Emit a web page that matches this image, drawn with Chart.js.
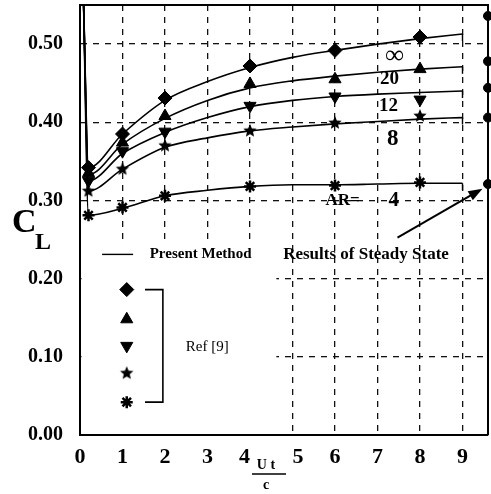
<!DOCTYPE html>
<html>
<head>
<meta charset="utf-8">
<script src="https://cdn.jsdelivr.net/npm/chart.js@4.4.1/dist/chart.umd.min.js"></script>
<style>
  html, body { margin: 0; padding: 0; background: #fff; }
  canvas { display: block; }
</style>
</head>
<body>
<canvas id="chart" width="491" height="494"></canvas>
<script>
const xTicks = [0, 1, 2, 3, 4, 5, 6, 7, 8, 9];
const yTicks = [0, 0.1, 0.2, 0.3, 0.4, 0.5];

// Present Method curves (AR = inf, 20, 12, 8, 4)
const tLine = [0.08, 0.2, 1, 2, 3, 4, 5, 6, 7, 8, 9];
const lineInf = [0.56, 0.342, 0.385, 0.428, 0.452, 0.470, 0.483, 0.492, 0.500, 0.507, 0.513];
const line20  = [0.56, 0.333, 0.372, 0.405, 0.428, 0.444, 0.453, 0.459, 0.464, 0.468, 0.471];
const line12  = [0.56, 0.325, 0.360, 0.387, 0.406, 0.420, 0.428, 0.433, 0.436, 0.438, 0.440];
const line8   = [0.56, 0.312, 0.340, 0.368, 0.380, 0.389, 0.394, 0.398, 0.401, 0.404, 0.406];
const line4   = [0.56, 0.281, 0.290, 0.306, 0.313, 0.318, 0.320, 0.320, 0.321, 0.322, 0.322];
const endDrop = 0.009;

// Ref [9] markers
const tRef = [0.2, 1, 2, 4, 6, 8];
const refInf = [0.342, 0.385, 0.431, 0.472, 0.492, 0.509];
const ref20  = [0.335, 0.374, 0.408, 0.449, 0.455, 0.468];
const ref12  = [0.325, 0.363, 0.388, 0.421, 0.433, 0.429];
const ref8   = [0.312, 0.340, 0.370, 0.389, 0.399, 0.408];
const ref4   = [0.281, 0.291, 0.306, 0.318, 0.319, 0.323];

// Results of steady state (on the right frame)
const tSteady = 9.6;
const steadyVals = [0.536, 0.478, 0.444, 0.406, 0.321];

const serif = "'Liberation Serif', 'Times New Roman', serif";

function makeStar(r) {
  const c = document.createElement("canvas");
  c.width = c.height = 2 * r + 2;
  const g = c.getContext("2d");
  g.fillStyle = "#000";
  g.beginPath();
  for (let i = 0; i < 10; i++) {
    const a = -Math.PI / 2 + i * Math.PI / 5;
    const rr = i % 2 ? r * 0.45 : r;
    const px = r + 1 + Math.cos(a) * rr, py = r + 1 + Math.sin(a) * rr;
    i ? g.lineTo(px, py) : g.moveTo(px, py);
  }
  g.closePath();
  g.fill();
  return c;
}
const starImg = makeStar(7);

const markerStyles = [
  { pointStyle: "rectRot", rotation: 0, radius: 7, borderWidth: 1 },
  { pointStyle: "triangle", rotation: 0, radius: 7, borderWidth: 1 },
  { pointStyle: "triangle", rotation: 180, radius: 7, borderWidth: 1 },
  { pointStyle: starImg, rotation: 0, radius: 7, borderWidth: 1 },
  { pointStyle: "star", rotation: 0, radius: 6, borderWidth: 2.5 }
];

const lines = [lineInf, line20, line12, line8, line4];
const refs = [refInf, ref20, ref12, ref8, ref4];

const datasets = [];
lines.forEach(vals => {
  datasets.push({
    data: tLine.map((t, i) => ({ x: t, y: vals[i] })),
    borderColor: "#000",
    borderWidth: 1.6,
    pointRadius: 0,
    cubicInterpolationMode: "monotone",
    fill: false
  });
  const last = vals[vals.length - 1];
  datasets.push({
    data: [{ x: 9, y: last }, { x: 9, y: last - endDrop }],
    borderColor: "#000",
    borderWidth: 1.4,
    pointRadius: 0
  });
});
refs.forEach((vals, k) => {
  const m = markerStyles[k];
  datasets.push({
    data: tRef.map((t, i) => ({ x: t, y: vals[i] })),
    showLine: false,
    pointStyle: m.pointStyle,
    rotation: m.rotation,
    pointRadius: m.radius,
    pointBorderWidth: m.borderWidth,
    backgroundColor: "#000",
    borderColor: "#000"
  });
});
datasets.push({
  data: steadyVals.map(v => ({ x: tSteady, y: v })),
  showLine: false,
  pointStyle: "circle",
  pointRadius: 4.5,
  backgroundColor: "#000",
  borderColor: "#000",
  clip: false
});

// text labels and annotations, placed in data units
const curveLabels = [
  { text: "\u221E", x: 7.40, y: 0.484, size: 26 },
  { text: "20", x: 7.28, y: 0.455, size: 19 },
  { text: "12", x: 7.26, y: 0.421, size: 19 },
  { text: "8", x: 7.36, y: 0.378, size: 23 },
  { text: "AR=", x: 6.18, y: 0.300, size: 17 },
  { text: "4", x: 7.38, y: 0.300, size: 21 }
];
const legendBox = { x: 4.62, y: 0.246 };
const legendLine = { x1: 0.52, x2: 1.25, y: 0.231 };
const legendMarkerX = 1.10;
const legendMarkerY = [0.186, 0.148, 0.114, 0.079, 0.042];
const arrow = { x1: 7.47, y1: 0.2526, x2: 9.47, y2: 0.315 };

const decor = {
  id: "decor",
  beforeDatasetsDraw(chart) {
    const { ctx, chartArea: a, scales: { x, y } } = chart;
    ctx.save();
    ctx.fillStyle = "#fff";
    const bx = x.getPixelForValue(legendBox.x);
    const by = y.getPixelForValue(legendBox.y);
    ctx.fillRect(a.left + 1.5, by, bx - a.left - 1.5, a.bottom - 1.5 - by);
    ctx.restore();
  },
  afterDraw(chart) {
    const { ctx, chartArea: a, scales: { x, y } } = chart;
    ctx.save();
    ctx.strokeStyle = "#000";
    ctx.fillStyle = "#000";

    // top and right frame
    ctx.lineWidth = 2;
    ctx.beginPath();
    ctx.moveTo(a.left, a.top);
    ctx.lineTo(a.right, a.top);
    ctx.lineTo(a.right, a.bottom);
    ctx.stroke();

    // curve labels
    ctx.textAlign = "center";
    ctx.textBaseline = "middle";
    curveLabels.forEach(l => {
      ctx.font = `bold ${l.size}px ${serif}`;
      ctx.fillText(l.text, x.getPixelForValue(l.x), y.getPixelForValue(l.y));
    });

    // legend: present method line
    const ly = y.getPixelForValue(legendLine.y);
    ctx.lineWidth = 1.4;
    ctx.beginPath();
    ctx.moveTo(x.getPixelForValue(legendLine.x1), ly);
    ctx.lineTo(x.getPixelForValue(legendLine.x2), ly);
    ctx.stroke();
    ctx.textAlign = "left";
    ctx.font = `bold 15px ${serif}`;
    ctx.fillText("Present Method", x.getPixelForValue(1.64), ly);
    ctx.font = `bold 17px ${serif}`;
    ctx.fillText("Results of Steady State", x.getPixelForValue(4.78), ly);

    // legend: ref [9] markers and bracket
    const mx = x.getPixelForValue(legendMarkerX);
    legendMarkerY.forEach((v, k) => {
      const m = markerStyles[k];
      ctx.lineWidth = m.borderWidth;
      Chart.helpers.drawPoint(ctx, m, mx, y.getPixelForValue(v));
    });
    const bx1 = x.getPixelForValue(1.53), bx2 = x.getPixelForValue(1.95);
    const byTop = y.getPixelForValue(legendMarkerY[0]);
    const byBot = y.getPixelForValue(legendMarkerY[4]);
    ctx.lineWidth = 1.6;
    ctx.beginPath();
    ctx.moveTo(bx1, byTop);
    ctx.lineTo(bx2, byTop);
    ctx.lineTo(bx2, byBot);
    ctx.lineTo(bx1, byBot);
    ctx.stroke();
    ctx.font = `15px ${serif}`;
    ctx.fillText("Ref [9]", x.getPixelForValue(2.49), y.getPixelForValue(0.113));

    // arrow to the steady-state results
    const ax1 = x.getPixelForValue(arrow.x1), ay1 = y.getPixelForValue(arrow.y1);
    const ax2 = x.getPixelForValue(arrow.x2), ay2 = y.getPixelForValue(arrow.y2);
    const ang = Math.atan2(ay2 - ay1, ax2 - ax1);
    ctx.lineWidth = 2;
    ctx.beginPath();
    ctx.moveTo(ax1, ay1);
    ctx.lineTo(ax2 - Math.cos(ang) * 8, ay2 - Math.sin(ang) * 8);
    ctx.stroke();
    ctx.beginPath();
    ctx.moveTo(ax2, ay2);
    ctx.lineTo(ax2 - Math.cos(ang - 0.35) * 15, ay2 - Math.sin(ang - 0.35) * 15);
    ctx.lineTo(ax2 - Math.cos(ang + 0.35) * 15, ay2 - Math.sin(ang + 0.35) * 15);
    ctx.closePath();
    ctx.fill();

    // y axis title C_L
    const cy = y.getPixelForValue(0.26);
    ctx.textAlign = "left";
    ctx.textBaseline = "alphabetic";
    ctx.font = `bold 34px ${serif}`;
    ctx.fillText("C", 12, cy);
    ctx.font = `bold 24px ${serif}`;
    ctx.fillText("L", 35, cy + 17);

    // x axis title Ut / c
    const fx = x.getPixelForValue(4) + 16;
    ctx.textAlign = "center";
    ctx.font = `bold 14px ${serif}`;
    ctx.fillText("U t", fx, a.bottom + 34);
    ctx.lineWidth = 1.4;
    ctx.beginPath();
    ctx.moveTo(fx - 14, a.bottom + 39);
    ctx.lineTo(fx + 20, a.bottom + 39);
    ctx.stroke();
    ctx.fillText("c", fx, a.bottom + 54);
    ctx.restore();
  }
};

const gridColor = c => (c.tick && c.tick.value === 0 ? "rgba(0,0,0,0)" : "#111");

new Chart(document.getElementById("chart").getContext("2d"), {
  type: "line",
  data: { datasets },
  options: {
    responsive: false,
    animation: false,
    layout: { autoPadding: false, padding: { top: 5, right: 3, left: 0, bottom: 0 } },
    plugins: { legend: { display: false }, tooltip: { enabled: false } },
    scales: {
      x: {
        type: "linear",
        min: 0,
        max: 9.6,
        afterBuildTicks: s => { s.ticks = xTicks.map(v => ({ value: v })); },
        afterFit: s => { s.height = 59; s.paddingLeft = 0; s.paddingRight = 0; },
        ticks: {
          color: "#000",
          padding: 9,
          maxRotation: 0,
          font: { family: serif, weight: "bold", size: 22 },
          callback: v => (v === 4 ? "4  " : v === 5 ? "  5" : String(v))
        },
        grid: { color: gridColor, lineWidth: 1.3, drawTicks: false },
        border: { color: "#000", width: 2, dash: [6, 6] }
      },
      y: {
        min: 0,
        max: 0.55,
        afterBuildTicks: s => { s.ticks = yTicks.map(v => ({ value: v })); },
        afterFit: s => { s.width = 80; s.paddingTop = 0; s.paddingBottom = 0; },
        ticks: {
          color: "#000",
          padding: 17,
          font: { family: serif, weight: "bold", size: 20 },
          callback: v => Number(v).toFixed(2)
        },
        grid: { color: gridColor, lineWidth: 1.3, drawTicks: false },
        border: { color: "#000", width: 2, dash: [6, 6] }
      }
    }
  },
  plugins: [decor]
});
</script>
</body>
</html>
